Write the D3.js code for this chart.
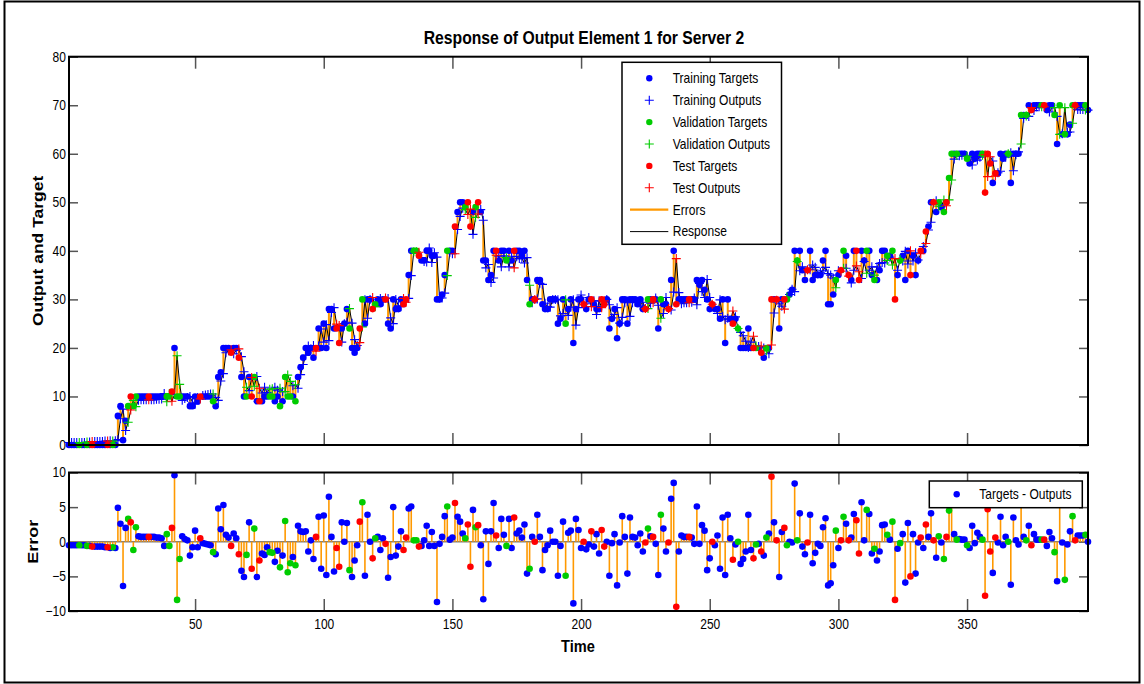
<!DOCTYPE html>
<html>
<head>
<meta charset="utf-8">
<script src="https://cdn.jsdelivr.net/npm/d3@7"></script>
<style>
  html, body { margin: 0; padding: 0; background: #fff; }
  svg { display: block; }
  text { font-family: "Liberation Sans", Arial, sans-serif; fill: #000; }
</style>
</head>
<body>
<svg id="chart" width="1144" height="684"></svg>
<script>
// ---------------- data ----------------
const timeSteps = d3.range(1, 398);

const targets = [
  0,0,0,0,0,0,0,0,0,0,
  0,0,0,0,0,0,0,0,0,6,
  8,1,5,8,10,8,10,10,10,10,
  10,10,10,10,10,10,10,10,10,10,
  11,20,10,10,10,10,10,8,8,10,
  9,10,10,10,10,10,9,8,14,15,
  20,20,20,19,20,20,18,14,10,10,
  14,10,14,9,9,9,10,10,10,10,
  9,10,8,9,14,10,10,10,9,14,
  16,18,20,19,20,18,20,24,20,25,
  20,28,28,24,24,21,24,25,28,24,
  20,19,20,24,30,25,30,30,28,29,
  30,29,30,30,25,24,30,28,28,30,
  29,30,35,40,40,40,39,38,38,40,
  40,39,39,30,30,31,35,40,40,40,
  45,48,50,50,49,50,45,48,49,50,
  48,38,38,34,35,40,40,38,40,40,
  38,40,38,40,40,40,39,40,34,29,
  30,30,34,34,29,28,28,30,30,30,
  25,26,30,25,28,30,21,28,30,30,
  29,28,30,30,29,28,28,30,29,30,
  24,26,28,22,25,30,30,25,30,30,
  30,29,30,28,28,30,30,30,30,24,
  30,29,29,28,34,40,29,30,30,30,
  30,30,30,30,34,33,34,32,30,28,
  29,28,28,26,30,21,30,26,25,26,
  24,20,20,20,24,20,20,20,20,19,
  18,20,20,30,30,30,24,30,30,30,
  31,32,40,38,40,36,34,36,40,34,
  35,35,35,38,40,29,29,31,34,35,
  36,40,39,35,34,40,40,34,40,38,
  40,40,35,34,34,36,40,40,39,39,
  40,30,35,38,39,34,40,35,39,35,
  38,40,40,44,45,50,50,48,50,49,
  48,50,55,60,60,60,60,60,60,59,
  58,60,59,60,60,60,52,60,58,54,
  56,56,60,59,60,60,54,60,60,60,
  68,68,68,70,69,70,70,70,70,70,
  69,70,70,68,62,70,64,64,64,66,
  70,70,70,70,70,70,69
];

// error = target - output
const errors = [
  -0.5,-0.5,-0.5,-0.5,-0.5,-0.5,-0.5,-0.6,-0.6,-0.7,
  -0.7,-0.7,-0.7,-0.7,-0.8,-0.8,-0.9,-0.8,-0.9,4.9,
  2.6,-6.4,2,3.3,2.8,-1.2,2.1,0.8,0.7,0.7,
  0.7,0.7,0.7,0.7,0.6,0.6,0.5,-0.6,1.1,-0.6,
  2,9.6,-8.4,-2.5,0.8,0.4,0.2,-2,-0.8,1.6,
  -0.8,0.5,-0.2,-0.3,-0.4,-0.5,-1.5,-1.8,4.8,1.8,
  5.3,1,0.6,-0.6,1.2,0.5,-1.8,-4.2,-5.1,-1.9,
  2.8,-3.9,1.9,-5.1,-2.7,-1.7,-1.9,-0.8,-1.5,-1.6,
  -2.9,-1.3,-3.7,-2,3,-4.4,-3.1,-2.2,-3.4,2.3,
  1.5,1.4,1.5,-1.4,0.2,-2.5,0.7,3.6,-3.9,3.8,
  -4.8,6.5,0.7,-4.3,-0.9,-3.6,2.8,0,2.7,-4.1,
  -5.1,-2.7,-0.5,2.9,5.7,-4.9,3.9,0,-2.4,0.5,
  0.7,-1.2,0.5,-0.3,-5.2,-2.2,5,-2,-0.7,1.5,
  -1.2,0.6,4.8,5.1,0.2,0.2,-0.7,-0.6,0.2,2.3,
  -0.6,1.4,-0.6,-8.7,-0.3,0.7,3.7,5.1,0.3,0.6,
  5.6,3.6,2.9,1.2,0.5,2.5,-3.6,4.6,2.1,2.4,
  -0.5,-8.3,1.5,-3.2,1.5,5.6,0.9,-0.9,3.3,1,
  -0.6,3.3,-0.9,3.5,1.2,1.6,0.6,2.5,-4.6,-3.9,
  0.7,0,3.9,0.7,-4.1,-1.2,-0.5,1.6,0,0,
  -4.9,-0.6,2.9,-4.9,1.3,1.6,-8.9,3.3,1.7,-0.9,
  0,-1.1,-0.4,1.5,-0.7,1.1,-1.7,1.7,-0.7,0,
  -4.9,-0.2,1.1,-6.3,-0.1,3.7,0.7,-4.6,3.5,0.7,
  0.6,-0.5,1.2,-1.4,-0.1,1.9,0.8,0.7,-0.3,-4.8,
  3.9,1.9,-1.4,-0.1,6.2,8.5,-9.4,-1.4,0.9,0.7,
  0.7,0.7,0.6,-0.3,5.1,-0.3,2.4,1.6,-4.1,-2.4,
  0,-0.5,0.9,-3.9,3.5,-4.8,3.9,0.5,-2.6,-0.4,
  0,-3.2,-2.5,-1.4,3.9,-1.2,-2.4,-0.4,-0.3,-1.4,
  -2,0.6,1.2,9.4,2.8,0.2,-5.1,1.4,2,-0.5,
  0,-0.1,8.4,0.2,4.1,-0.7,-1.8,-0.1,3.9,-3.1,
  -1.6,-0.3,-0.6,2.1,3.4,-6.3,-6,-3.4,1.6,-0.9,
  0.2,3.6,2.6,0.2,0.6,4,3.1,-1.7,5.7,0.2,
  4.6,4,-1.7,-1,-2.7,-1.4,2.4,2.5,1,0.3,
  2.9,-8.4,-1,-0.2,1.1,-5.9,2.7,-5,1.1,-4.6,
  -0.1,0.6,-0.9,2.5,0.7,4.1,0.2,-2.3,0.8,-0.1,
  -2.5,0.7,4.5,5.4,1.1,0.3,0.4,0.3,0.3,-0.5,
  -0.9,2.3,-0.2,1.3,0.7,0.3,-7.8,4.7,-1.4,-4.5,
  0.6,-0.1,3.6,-0.5,0.7,0,-6.2,3.5,0.2,-0.4,
  6,0.7,0.2,2.3,-0.5,1.1,0.3,0.3,0.3,0.3,
  -0.6,1.4,0.5,-1.5,-5.7,6,-0.1,-5.5,-0.4,1.5,
  3.7,0.2,0.9,0.9,0.9,1,0
];

const validationSteps = [5,8,18,24,26,27,39,40,43,44,57,70,73,79,80,83,85,86,87,89,
  110,115,120,135,136,148,155,159,171,180,194,226,231,261,268,272,280,284,299,302,
  311,314,319,321,324,339,341,343,344,346,350,356,366,371,373,379,384,386,388,391,396];
const testSteps = [10,16,25,32,41,52,64,67,72,75,97,105,106,114,119,124,131,132,137,151,
  156,157,160,167,174,182,201,204,208,209,225,228,234,237,242,251,259,267,270,274,
  276,279,288,301,304,307,308,322,328,332,334,337,342,357,358,359,361,375,380,392];

const timeTicks = [50, 100, 150, 200, 250, 300, 350];
const outputTicks = [0, 10, 20, 30, 40, 50, 60, 70, 80];
const errorTicks = [-10, -5, 0, 5, 10];

const titleText = "Response of Output Element 1 for Server 2";
const topYLabel = "Output and Target";
const bottomYLabel = "Error";
const xLabel = "Time";

const setColors = { train: "#0000ff", val: "#00cc00", test: "#ff0000" };
const errColor = "#ff9900";

const legendItems = [
  { label: "Training Targets",   kind: "dot",  color: setColors.train },
  { label: "Training Outputs",   kind: "plus", color: setColors.train },
  { label: "Validation Targets", kind: "dot",  color: setColors.val },
  { label: "Validation Outputs", kind: "plus", color: setColors.val },
  { label: "Test Targets",       kind: "dot",  color: setColors.test },
  { label: "Test Outputs",       kind: "plus", color: setColors.test },
  { label: "Errors",             kind: "line", color: errColor, width: 2.2 },
  { label: "Response",           kind: "line", color: "#000", width: 1 }
];

// ---------------- layout ----------------
const SX = 0.86;          // horizontal squeeze applied to all lettering
const left = 69, right = 1088;
const topPanel = { top: 56.7, bottom: 445 };
const errPanel = { top: 472.5, bottom: 611 };

const svg = d3.select("#chart");

const x = d3.scaleLinear().domain([1, 397]).range([left, right]);
const yOut = d3.scaleLinear().domain([0, 80]).range([topPanel.bottom, topPanel.top]);
const yErr = d3.scaleLinear().domain([-10, 10]).range([errPanel.bottom, errPanel.top]);

const valSet = new Set(validationSteps), testSet = new Set(testSteps);
const points = timeSteps.map((t, i) => ({
  t,
  target: targets[i],
  error: errors[i],
  output: targets[i] - errors[i],
  set: valSet.has(t) ? "val" : testSet.has(t) ? "test" : "train"
}));

// Lettering is squeezed along the page's horizontal direction; for rotated
// labels that means squeezing the glyph height instead of the run length.
function label(g, px, py, str, opts = {}) {
  const squeeze = opts.rotate ? `scale(1,${SX})` : `scale(${SX},1)`;
  return g.append("text")
    .attr("transform", `translate(${px},${py})${opts.rotate ? ` rotate(${opts.rotate})` : ""} ${squeeze}`)
    .attr("text-anchor", opts.anchor || "middle")
    .attr("dominant-baseline", "central")
    .style("font-size", (opts.size || 13) + "px")
    .style("font-weight", opts.bold ? "bold" : "normal")
    .text(str);
}

const plusPath = s => `M${-s},0H${s}M0,${-s}V${s}`;

// outer figure frame
svg.append("rect")
  .attr("x", 4.5).attr("y", 1.5).attr("width", 1135).attr("height", 681)
  .attr("fill", "#fff").attr("stroke", "#000").attr("stroke-width", 2);

// ---------------- axes helper ----------------
function drawAxes(yScale, yTicks, panel, withXLabels) {
  const g = svg.append("g");
  const tickStroke = "#555";
  const yl = g.append("g").attr("transform", `translate(${left},0)`)
    .call(d3.axisLeft(yScale).tickValues(yTicks).tickSizeInner(-9).tickSizeOuter(0).tickPadding(3));
  const yr = g.append("g").attr("transform", `translate(${right},0)`)
    .call(d3.axisRight(yScale).tickValues(yTicks).tickSizeInner(-9).tickSizeOuter(0).tickFormat(""));
  const xb = g.append("g").attr("transform", `translate(0,${panel.bottom})`)
    .call(d3.axisBottom(x).tickValues(timeTicks).tickSizeInner(-12).tickSizeOuter(0).tickPadding(8)
      .tickFormat(withXLabels ? d3.format("d") : ""));
  const xt = g.append("g").attr("transform", `translate(0,${panel.top})`)
    .call(d3.axisTop(x).tickValues(timeTicks).tickSizeInner(-12).tickSizeOuter(0).tickFormat(""));
  [yl, yr, xb, xt].forEach(a => {
    a.select(".domain").remove();
    a.selectAll(".tick line").attr("stroke", tickStroke).attr("stroke-width", 1.5);
    a.selectAll(".tick text")
      .style("font-family", '"Liberation Sans", Arial, sans-serif')
      .style("font-size", "14px")
      .attr("fill", "#000");
  });
  yl.selectAll(".tick text").attr("transform", `scale(${SX},1)`).attr("x", -3 / SX);
  xb.selectAll(".tick text").attr("transform", `scale(${SX},1)`);
  return g;
}

// ---------------- top panel ----------------
drawAxes(yOut, outputTicks, topPanel, false);
const topPlot = svg.append("g");

// error segments between target and output
topPlot.append("g").selectAll("line").data(points).join("line")
  .attr("x1", d => x(d.t)).attr("x2", d => x(d.t))
  .attr("y1", d => yOut(d.target)).attr("y2", d => yOut(d.output))
  .attr("stroke", errColor).attr("stroke-width", 2);

// response line through all outputs
topPlot.append("path").datum(points)
  .attr("d", d3.line().x(d => x(d.t)).y(d => yOut(d.output)))
  .attr("fill", "none").attr("stroke", "#000").attr("stroke-width", 1);

["train", "val", "test"].forEach(s => {
  const sub = points.filter(p => p.set === s);
  topPlot.append("g").selectAll("circle").data(sub).join("circle")
    .attr("cx", d => x(d.t)).attr("cy", d => yOut(d.target)).attr("r", 3.3)
    .attr("fill", setColors[s]);
  topPlot.append("g").selectAll("path").data(sub).join("path")
    .attr("transform", d => `translate(${x(d.t)},${yOut(d.output)})`)
    .attr("d", plusPath(4.5)).attr("stroke", setColors[s]).attr("stroke-width", 1.1);
});

// box of top panel
svg.append("rect").attr("x", left).attr("y", topPanel.top)
  .attr("width", right - left).attr("height", topPanel.bottom - topPanel.top)
  .attr("fill", "none").attr("stroke", "#000").attr("stroke-width", 2);

// legend of top panel
const lg = svg.append("g");
lg.append("rect").attr("x", 622).attr("y", 62.3).attr("width", 159.5).attr("height", 182)
  .attr("fill", "#fff").attr("stroke", "#000").attr("stroke-width", 1.5);
legendItems.forEach((it, i) => {
  const cy = 78.3 + i * 21.9;
  if (it.kind === "dot") {
    lg.append("circle").attr("cx", 649.3).attr("cy", cy).attr("r", 3.2).attr("fill", it.color);
  } else if (it.kind === "plus") {
    lg.append("path").attr("transform", `translate(649.3,${cy})`).attr("d", plusPath(4.5))
      .attr("stroke", it.color).attr("stroke-width", 1.1);
  } else {
    lg.append("line").attr("x1", 630).attr("x2", 668.3).attr("y1", cy).attr("y2", cy)
      .attr("stroke", it.color).attr("stroke-width", it.width);
  }
  label(lg, 672.7, cy, it.label, { anchor: "start", size: 14 });
});

// ---------------- error panel ----------------
drawAxes(yErr, errorTicks, errPanel, true);
const errPlot = svg.append("g");

errPlot.append("line").attr("x1", left).attr("x2", right)
  .attr("y1", yErr(0)).attr("y2", yErr(0))
  .attr("stroke", "#7f7f7f").attr("stroke-width", 1.5);

errPlot.append("g").selectAll("line").data(points).join("line")
  .attr("x1", d => x(d.t)).attr("x2", d => x(d.t))
  .attr("y1", yErr(0)).attr("y2", d => yErr(d.error))
  .attr("stroke", errColor).attr("stroke-width", 1.6);

["train", "val", "test"].forEach(s => {
  errPlot.append("g").selectAll("circle").data(points.filter(p => p.set === s)).join("circle")
    .attr("cx", d => x(d.t)).attr("cy", d => yErr(d.error)).attr("r", 3.3)
    .attr("fill", setColors[s]);
});

svg.append("rect").attr("x", left).attr("y", errPanel.top)
  .attr("width", right - left).attr("height", errPanel.bottom - errPanel.top)
  .attr("fill", "none").attr("stroke", "#000").attr("stroke-width", 2);

// legend of error panel
const lg2 = svg.append("g");
lg2.append("rect").attr("x", 929.3).attr("y", 481).attr("width", 153).attr("height", 26.7)
  .attr("fill", "#fff").attr("stroke", "#000").attr("stroke-width", 1.5);
lg2.append("circle").attr("cx", 956.7).attr("cy", 494.3).attr("r", 3.2).attr("fill", setColors.train);
label(lg2, 979.3, 494.3, "Targets - Outputs", { anchor: "start", size: 14 });

// ---------------- titles ----------------
label(svg, 584, 38, titleText, { bold: true, size: 18.3 });
label(svg, 37, (topPanel.top + topPanel.bottom) / 2, topYLabel, { bold: true, size: 17.5, rotate: -90 });
label(svg, 33, yErr(0), bottomYLabel, { bold: true, size: 18, rotate: -90 });
label(svg, 578, 646, xLabel, { bold: true, size: 17 });
</script>
</body>
</html>
